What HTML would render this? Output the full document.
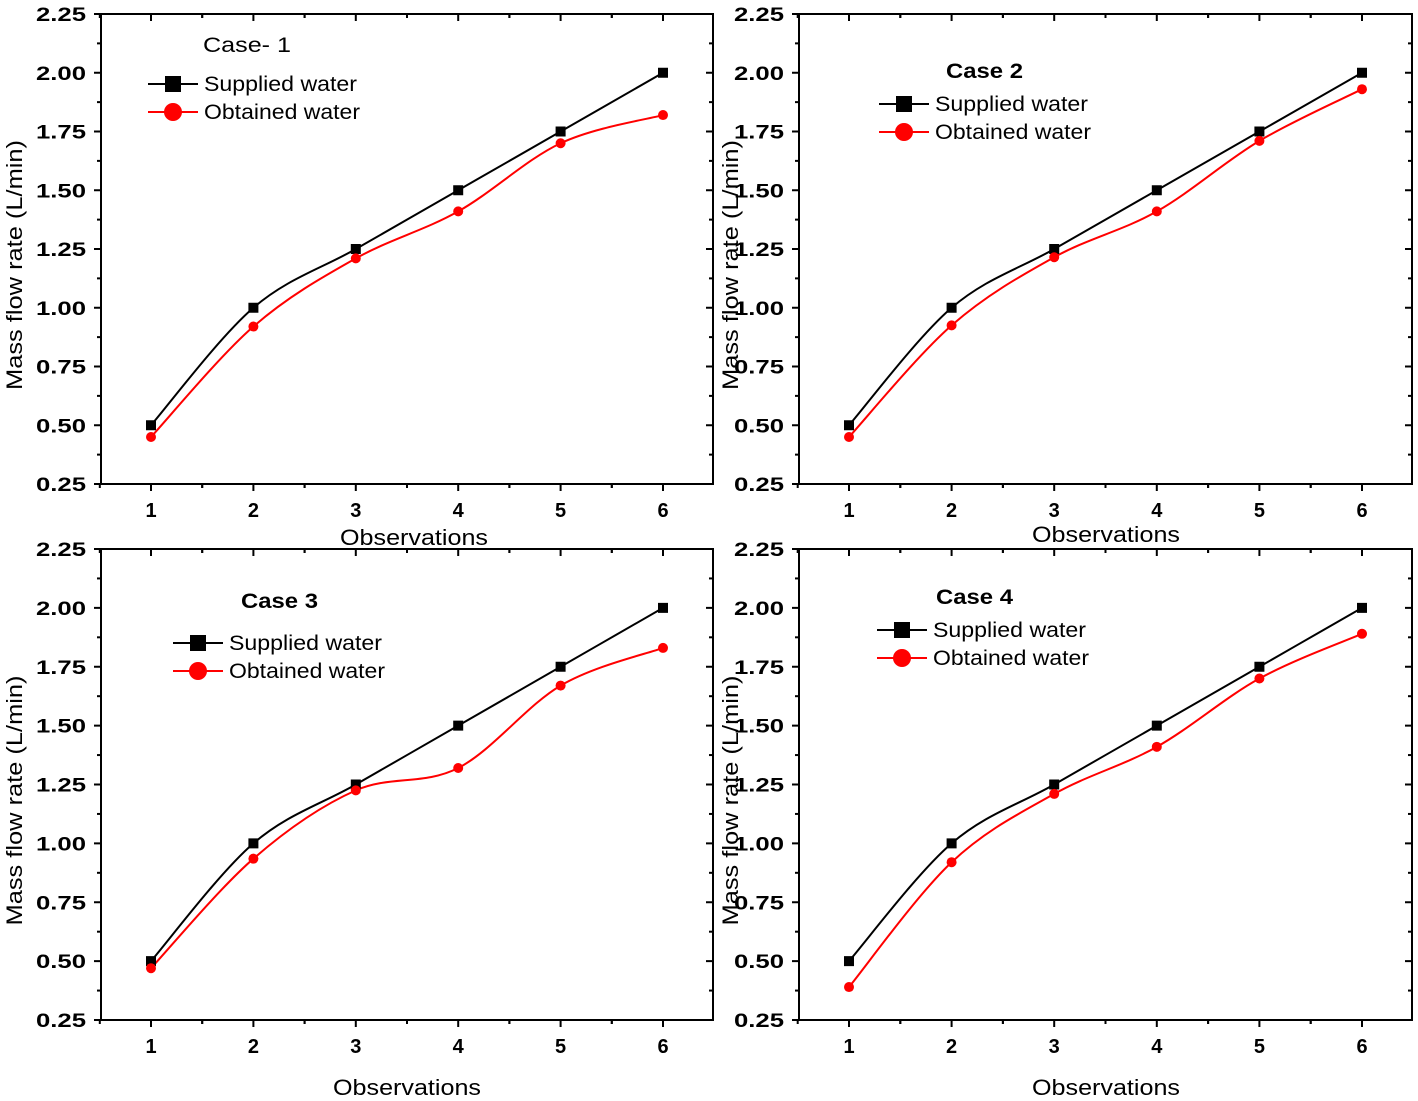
<!DOCTYPE html>
<html><head><meta charset="utf-8"><style>
html,body{margin:0;padding:0;background:#fff;}
svg{display:block;font-family:"Liberation Sans",Arial,sans-serif;}
</style></head><body>
<svg id="chart" width="1418" height="1101" viewBox="0 0 1418 1101"></svg>
<script>
const observations = [1, 2, 3, 4, 5, 6];
const yTicks = [0.25, 0.50, 0.75, 1.00, 1.25, 1.50, 1.75, 2.00, 2.25];
const suppliedWater = [0.50, 1.00, 1.25, 1.50, 1.75, 2.00];
const obtainedCase1 = [0.45, 0.92, 1.21, 1.41, 1.70, 1.82];
const obtainedCase2 = [0.45, 0.925, 1.215, 1.41, 1.71, 1.93];
const obtainedCase3 = [0.47, 0.935, 1.225, 1.32, 1.67, 1.83];
const obtainedCase4 = [0.39, 0.92, 1.21, 1.41, 1.70, 1.89];
const caseTitles = ["Case- 1", "Case 2", "Case 3", "Case 4"];

const NS = "http://www.w3.org/2000/svg";
const svg = document.getElementById('chart');
function mk(tag, attrs, parent, text) {
  const e = document.createElementNS(NS, tag);
  for (const k in attrs) e.setAttribute(k, attrs[k]);
  if (text !== undefined) e.textContent = text;
  (parent || svg).appendChild(e);
  return e;
}
function smoothPath(pts) {
  let d = `M${pts[0][0]},${pts[0][1]}`;
  for (let i = 0; i < pts.length - 1; i++) {
    const p0 = pts[Math.max(0, i - 1)], p1 = pts[i], p2 = pts[i + 1], p3 = pts[Math.min(pts.length - 1, i + 2)];
    const c1 = [p1[0] + (p2[0] - p0[0]) / 6, p1[1] + (p2[1] - p0[1]) / 6];
    const c2 = [p2[0] - (p3[0] - p1[0]) / 6, p2[1] - (p3[1] - p1[1]) / 6];
    d += ` C${c1[0]},${c1[1]} ${c2[0]},${c2[1]} ${p2[0]},${p2[1]}`;
  }
  return d;
}

const panels = [
  {L:101, R:713, T:14, B:484, obt:obtainedCase1, title:[203,52,false,88], leg:[148,84], xl:[414,545], yx:22},
  {L:799, R:1412, T:14, B:484, obt:obtainedCase2, title:[946,78,true,77], leg:[879,104], xl:[1106,542], yx:738},
  {L:101, R:713, T:549, B:1020, obt:obtainedCase3, title:[241,608,true,77], leg:[173,643], xl:[407,1095], yx:22},
  {L:799, R:1412, T:549, B:1020, obt:obtainedCase4, title:[936,604,true,77], leg:[877,630], xl:[1106,1095], yx:738}
];

panels.forEach((p, idx) => {
  const g = mk('g', {});
  
  
  const xStart = p.L + 50, xStep = (p.R - p.L - 100) / 5;
  const xs = v => xStart + (v - 1) * xStep;
  const ys = v => p.B - (v - 0.25) / 2.0 * (p.B - p.T);
  mk('rect', {x:p.L, y:p.T, width:p.R - p.L, height:p.B - p.T, fill:'none', stroke:'#000', 'stroke-width':2}, g);
  yTicks.forEach((t, i) => {
    const y = ys(t);
    mk('line', {x1:p.L - 7, x2:p.L, y1:y, y2:y, stroke:'#000', 'stroke-width':2}, g);
    mk('line', {x1:p.R - 7, x2:p.R, y1:y, y2:y, stroke:'#000', 'stroke-width':2}, g);
    const lab = mk('text', {x:p.L - 15, y:y + 7, 'text-anchor':'end', 'font-size':19, 'font-weight':'bold', textLength:50, lengthAdjust:'spacingAndGlyphs'}, g, t.toFixed(2));
    
    
    if (i < yTicks.length - 1) {
      const ym = ys(t + 0.125);
      mk('line', {x1:p.L - 4, x2:p.L, y1:ym, y2:ym, stroke:'#000', 'stroke-width':2}, g);
      mk('line', {x1:p.R - 4, x2:p.R, y1:ym, y2:ym, stroke:'#000', 'stroke-width':2}, g);
    }
  });
  observations.forEach((o, i) => {
    const x = xs(o);
    mk('line', {x1:x, x2:x, y1:p.B, y2:p.B + 7, stroke:'#000', 'stroke-width':2}, g);
    mk('line', {x1:x, x2:x, y1:p.T, y2:p.T + 7, stroke:'#000', 'stroke-width':2}, g);
    const lab = mk('text', {x:x, y:p.B + 33, 'text-anchor':'middle', 'font-size':20, 'font-weight':'bold'}, g, String(o));
    
    
    for (const m of [o - 0.5, o + 0.5]) {
      if (m < 1 && i > 0) continue;
      if (i < observations.length - 1 || m < o) {
        const xm = xs(m);
        mk('line', {x1:xm, x2:xm, y1:p.B, y2:p.B + 4, stroke:'#000', 'stroke-width':2}, g);
        mk('line', {x1:xm, x2:xm, y1:p.T, y2:p.T + 4, stroke:'#000', 'stroke-width':2}, g);
      }
    }
  });
  const yt = mk('text', {x:0, y:0, transform:`translate(${p.yx},${(p.T + p.B) / 2 + 16}) rotate(-90)`, 'text-anchor':'middle', 'font-size':22, textLength:250, lengthAdjust:'spacingAndGlyphs'}, g, 'Mass flow rate (L/min)');
  
  
  const xt = mk('text', {x:p.xl[0], y:p.xl[1], 'text-anchor':'middle', 'font-size':22, textLength:148, lengthAdjust:'spacingAndGlyphs'}, g, 'Observations');
  
  
  const sp = observations.map((o, i) => [xs(o), ys(suppliedWater[i])]);
  const op = observations.map((o, i) => [xs(o), ys(p.obt[i])]);
  const l1 = mk('path', {d:smoothPath(sp), fill:'none', stroke:'#000', 'stroke-width':2}, g);
  
  
  const l2 = mk('path', {d:smoothPath(op), fill:'none', stroke:'#f00', 'stroke-width':2}, g);
  
  
  sp.forEach(q => {
    const r = mk('rect', {x:q[0] - 5, y:q[1] - 5, width:10, height:10, fill:'#000'}, g);
    
    
  });
  op.forEach(q => {
    const c = mk('circle', {cx:q[0], cy:q[1], r:5, fill:'#f00'}, g);
    
    
  });
  const tt = mk('text', {x:p.title[0], y:p.title[1], 'font-size':21, 'font-weight':p.title[2] ? 'bold' : 'normal', textLength:p.title[3], lengthAdjust:'spacingAndGlyphs'}, g, caseTitles[idx]);
  
  
  const lg = mk('g', {}, g);
  
  
  const [lx, ly] = p.leg;
  mk('line', {x1:lx, x2:lx + 50, y1:ly, y2:ly, stroke:'#000', 'stroke-width':2}, lg);
  mk('rect', {x:lx + 17, y:ly - 8, width:16, height:16, fill:'#000'}, lg);
  const t1 = mk('text', {x:lx + 56, y:ly + 7, 'font-size':21, textLength:153, lengthAdjust:'spacingAndGlyphs'}, lg, 'Supplied water');
  
  
  mk('line', {x1:lx, x2:lx + 50, y1:ly + 28, y2:ly + 28, stroke:'#f00', 'stroke-width':2}, lg);
  mk('circle', {cx:lx + 25, cy:ly + 28, r:9, fill:'#f00'}, lg);
  const t2 = mk('text', {x:lx + 56, y:ly + 35, 'font-size':21, textLength:156, lengthAdjust:'spacingAndGlyphs'}, lg, 'Obtained water');
  
  
});
</script>
</body></html>
